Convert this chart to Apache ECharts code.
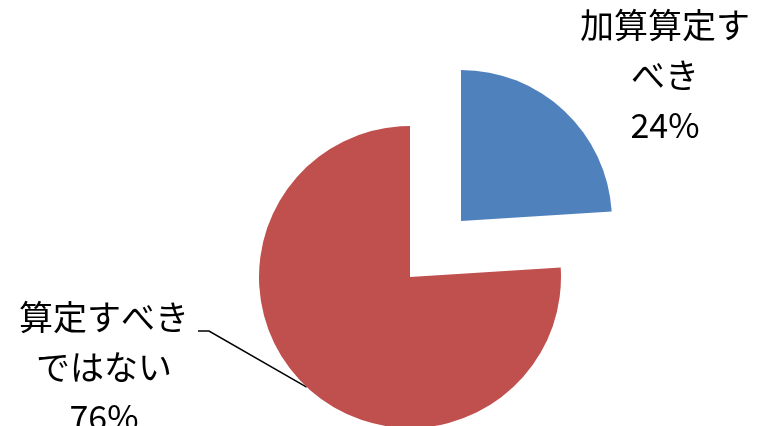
<!DOCTYPE html>
<html>
<head>
<meta charset="utf-8">
<script src="https://cdn.jsdelivr.net/npm/echarts@6/dist/echarts.min.js"></script>
<style>html,body{margin:0;padding:0;background:#fff}#c{width:763px;height:426px}</style>
</head>
<body>
<div id="c"></div>
<script>
const categories = ['加算算定す\nべき', '算定すべき\nではない'];
const values = [24, 76];
const colors = ['#4F81BD', '#C0504D'];

const chart = echarts.init(document.getElementById('c'), null, {renderer: 'canvas'});

// One pie per slice so the exploded slice can sit on its own centre.
const centers = [[461, 221], [410, 277]];
const labelPos = [[665, 75], [104, 367]];

const labelBase = {
  show: true,
  position: 'outside',
  formatter: '{b}\n{d}%',
  fontSize: 34,
  lineHeight: 50,
  color: '#000',
  fontFamily: 'Noto Sans CJK JP',
  align: 'center'
};

const series = categories.map((_, s) => ({
  type: 'pie',
  center: centers[s],
  radius: 151,
  startAngle: 90,
  clockwise: true,
  avoidLabelOverlap: false,
  percentPrecision: 0,
  silent: true,
  emphasis: {disabled: true},
  data: categories.map((name, i) => ({
    name: name,
    value: values[i],
    itemStyle: i === s ? {color: colors[i]} : {color: 'rgba(0,0,0,0)'},
    label: i === s ? labelBase : {show: false},
    labelLine: {show: i === s && s === 1, lineStyle: {color: '#000', width: 1.5}}
  })),
  labelLayout: function (params) {
    if (params.dataIndex !== s) return {};
    const pos = labelPos[s];
    const out = {x: pos[0], y: pos[1], align: 'center', verticalAlign: 'middle'};
    if (s === 1) {
      const p0 = params.labelLinePoints ? params.labelLinePoints[0] : [307, 387];
      out.labelLinePoints = [p0, [209, 331], [198, 331]];
    }
    return out;
  }
}));

chart.setOption({animation: false, series: series});
</script>
</body>
</html>
